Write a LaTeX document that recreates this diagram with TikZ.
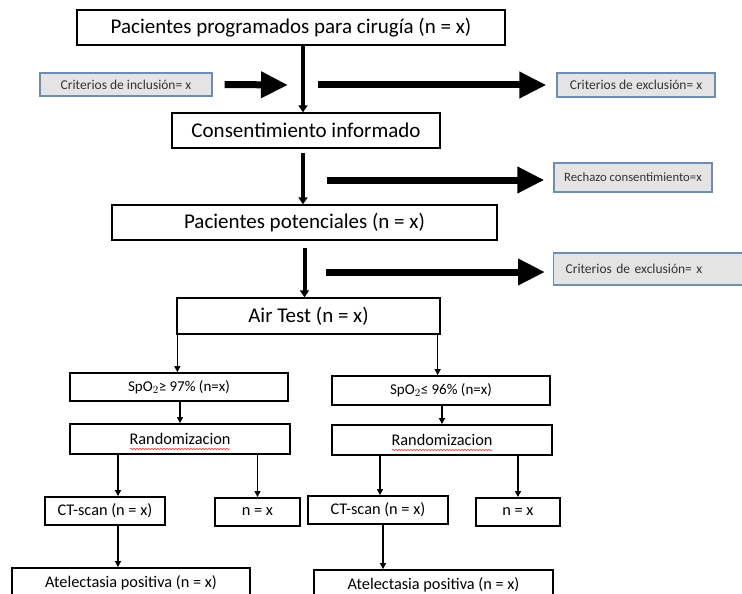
\documentclass[tikz,border=0pt]{standalone}
\usepackage{fontspec}
\setmainfont{Carlito}
\usetikzlibrary{arrows.meta,decorations.pathmorphing}
\definecolor{notefill}{HTML}{E4E4E4}
\definecolor{notedraw}{HTML}{6F8DB0}

\begin{document}
\begin{tikzpicture}[x=1pt,y=-1pt,
		main box/.style={draw,line width=1.3pt,minimum height=35pt,inner sep=0pt,font=\fontsize{21}{23}\selectfont},
		sub box/.style={draw,line width=1.8pt,minimum height=29pt,inner sep=0pt,font=\fontsize{16.3}{18}\selectfont},
		note box/.style={draw=notedraw,fill=notefill,line width=1.2pt,minimum height=24pt,inner sep=0pt,text=black!80,font=\fontsize{13.5}{15}\selectfont},
		big arrow/.style={line width=7pt,-{Triangle[length=27pt,width=25pt]}},
		down arrow/.style={line width=4pt,-{Triangle[length=7pt,width=9pt]}},
		thin arrow/.style={line width=1.2pt,-{Triangle[length=6pt,width=6pt]}},
		spell/.style={red!80,line width=0.6pt,decorate,decoration={snake,amplitude=0.8pt,segment length=3pt}}]

	\useasboundingbox (0,0) rectangle (742,594);

	% main column
	\node[main box,minimum width=428pt] (top) at (291,27.5) {Pacientes programados para cirugía (n = x)};
	\node[main box,minimum width=268pt] (cons) at (306,130.5) {Consentimiento informado};
	\node[main box,minimum width=385pt] (pot) at (304.5,222.5) {Pacientes potenciales (n = x)};
	\node[main box,minimum width=263pt,minimum height=36pt] (air) at (308.5,316) {Air Test (n = x)};

	% side notes
	\node[note box,minimum width=172pt,minimum height=23pt] (incl) at (126,84.5) {Criterios de inclusión= x};
	\node[note box,minimum width=158pt] (excl1) at (636,85) {Criterios de exclusión= x};
	\node[note box,minimum width=158pt,minimum height=29pt,font=\fontsize{12.7}{14}\selectfont] (rech) at (633,177.5) {Rechazo consentimiento=x};
	\node[note box,anchor=west,text width=190pt,inner xsep=12pt,align=left,minimum height=32pt] (excl2) at (553,269) {Criterios de exclusión= x};

	\coordinate (inclend) at (288,85);
	\coordinate (excl1start) at (318,85);
	\coordinate (rechstart) at (327,180);
	\coordinate (excl2start) at (326,272);

	% branches
	\node[sub box,minimum width=218pt,minimum height=28pt,font=\fontsize{15}{17}\selectfont] (spo1) at (179,387) {SpO$_2$≥ 97\% (n=x)};
	\node[sub box,minimum width=218pt,font=\fontsize{15}{17}\selectfont] (spo2) at (441,390.5) {SpO$_2$≤ 96\% (n=x)};
	\node[sub box,minimum width=220pt,minimum height=30pt] (rand1) at (180,439) {Randomizacion};
	\node[sub box,minimum width=220pt,minimum height=30pt] (rand2) at (442,440) {Randomizacion};
	\node[sub box,minimum width=120pt,minimum height=28pt] (ct1) at (105,511) {CT-scan (n = x)};
	\node[sub box,minimum width=85pt,minimum height=28pt] (n1) at (257.5,512) {n = x};
	\node[sub box,minimum width=140pt,minimum height=28pt] (ct2) at (378,510) {CT-scan (n = x)};
	\node[sub box,minimum width=84pt,minimum height=28pt] (n2) at (518,512) {n = x};
	\node[sub box,minimum width=238pt,minimum height=30pt] (at1) at (131,583) {Atelectasia positiva (n = x)};
	\node[sub box,minimum width=239pt,minimum height=30pt] (at2) at (433.5,585) {Atelectasia positiva (n = x)};

	\draw[spell] ([xshift=-50pt,yshift=-10pt]rand1.center) -- ([xshift=50pt,yshift=-10pt]rand1.center);
	\draw[spell] ([xshift=-50pt,yshift=-10pt]rand2.center) -- ([xshift=50pt,yshift=-10pt]rand2.center);

	% arrows
	\draw[big arrow] ([xshift=12pt]incl.east) -- (inclend);
	\draw[big arrow] (excl1start) -- ([xshift=-10pt]excl1.west);
	\draw[big arrow] (rechstart) -- ([xshift=-9pt]rech.west |- rechstart);
	\draw[big arrow] (excl2start) -- ([xshift=-8pt]excl2.west |- excl2start);

	\draw[down arrow] ([xshift=-3pt]top.south -| cons.north) -- ([xshift=-3pt]cons.north);
	\draw[down arrow] ([xshift=-3pt,yshift=-4pt]cons.south) -- ([xshift=-3pt]cons.south |- pot.north);
	\draw[down arrow] ([yshift=-7pt]pot.south) -- (pot.south |- air.north);

	\draw[thin arrow] ([xshift=1pt]air.south west) -- ([xshift=1pt]air.south west |- spo1.north);
	\draw[thin arrow] ([xshift=-3pt]air.south east) -- ([xshift=-3pt]air.south east |- spo2.north);
	\draw[thin arrow] (rand1.north |- spo1.south) -- (rand1.north);
	\draw[thin arrow] (rand2.north |- spo2.south) -- (rand2.north);
	\draw[thin arrow] ([xshift=13pt]ct1.north |- rand1.south) -- ([xshift=13pt]ct1.north);
	\draw[thin arrow] (n1.north |- rand1.south) -- (n1.north);
	\draw[thin arrow] ([xshift=2pt]ct2.north |- rand2.south) -- ([xshift=2pt]ct2.north);
	\draw[thin arrow] (n2.north |- rand2.south) -- (n2.north);
	\draw[thin arrow] ([xshift=13pt]ct1.south) -- ([xshift=13pt]ct1.south |- at1.north);
	\draw[thin arrow] ([xshift=5pt]ct2.south) -- ([xshift=5pt]ct2.south |- at2.north);
\end{tikzpicture}
\end{document}
